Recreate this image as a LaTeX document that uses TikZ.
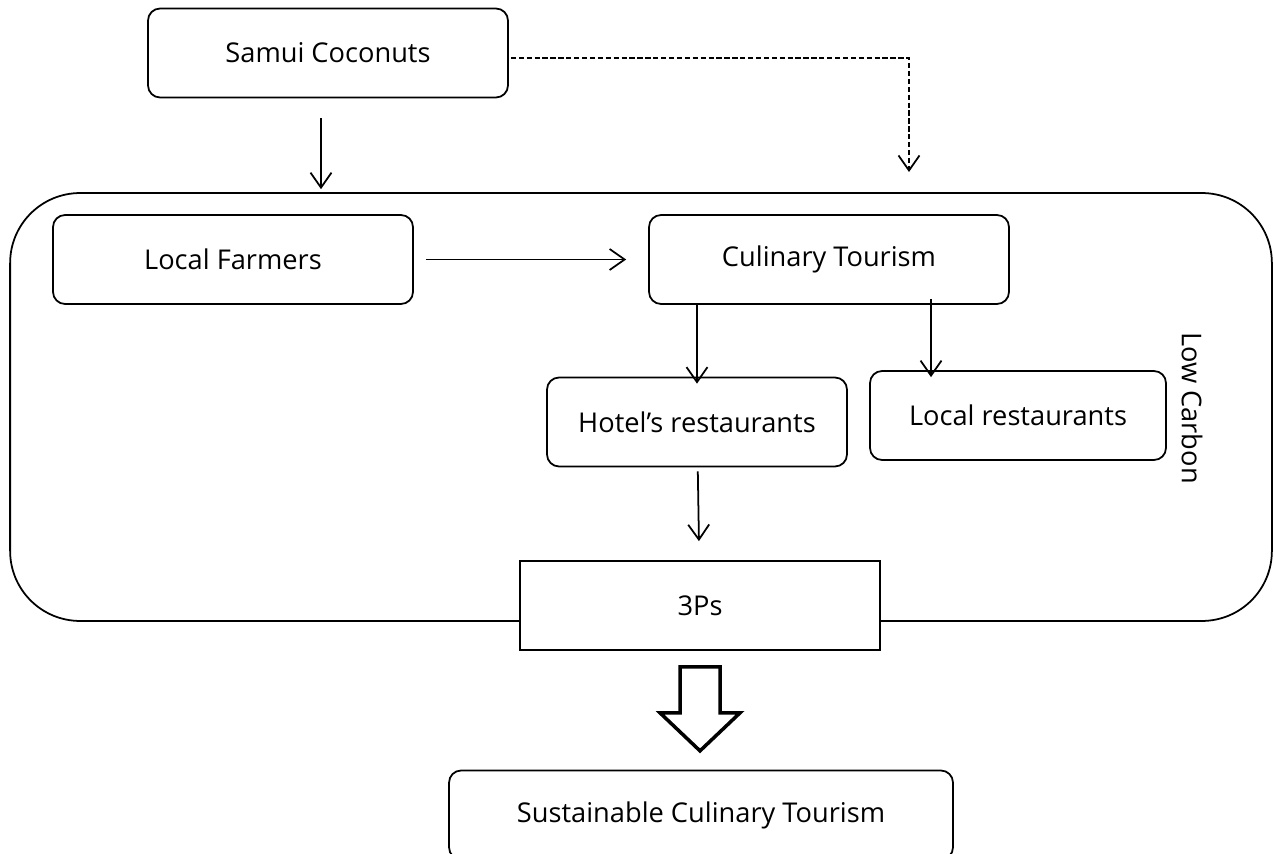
\documentclass[tikz,border=0pt]{standalone}
\usepackage{fontspec}
\setmainfont{Open Sans}
\usetikzlibrary{arrows.meta}
\begin{document}
\begin{tikzpicture}[x=0.02cm,y=-0.02cm,line width=1pt,
    txt/.style={font=\fontsize{15.5}{18}\selectfont},
    box/.style={draw,txt,rounded corners=0.24cm,minimum height=1.78cm},
    arr/.style={-{Straight Barb[length=0.3cm,width=0.42cm]}}]
  \useasboundingbox (0,0) rectangle (1274,854);
  \node[draw,rounded corners=1.4cm,minimum width=25.24cm,minimum height=8.56cm] (lowc) at (641,407) {};
  \node[txt,rotate=-90] (lowctxt) at (1192,408) {Low Carbon};
  \def\boxes{coco/{(328,53)}/7.2/Samui Coconuts,farm/{(233,259.5)}/7.2/Local Farmers,cul/{(829,259.5)}/7.2/Culinary Tourism,hotel/{(697,422)}/6/Hotel’s restaurants,localr/{(1018,415.5)}/5.92/Local restaurants,sct/{(701,815)}/10.08/Sustainable Culinary Tourism}
  \foreach \n/\p/\w/\t in \boxes {\node[box,minimum width=\w cm] (\n) at \p {\t};}
  \node[draw,txt,fill=white,minimum width=7.2cm,minimum height=1.78cm] (ps) at (700,605.5) {3Ps};
  \coordinate (dend) at (909,172);
  \draw[arr,shorten <=0.4cm,shorten >=0.06cm] ([xshift=-0.14cm]coco.south) -- ([xshift=-0.14cm]coco.south |- lowc.north);
  \draw[arr,dash pattern=on 3pt off 1.5pt] ([shift={(2,5)}]coco.east) -| (dend);
  \draw[arr,shorten <=0.24cm,shorten >=0.44cm] (farm) -- (cul);
  \draw[arr,shorten >=-0.14cm] (hotel.north |- cul.south) -- (hotel.north);
  \draw[arr,shorten <=-0.12cm,shorten >=-0.14cm] ([xshift=-1.74cm]localr.north |- cul.south) -- ([xshift=-1.74cm]localr.north);
  \draw[arr,shorten <=0.08cm,shorten >=0.38cm] (hotel) -- (ps);
  \draw[line width=2pt] ([xshift=-0.4cm,yshift=-0.32cm]ps.south) -- ++(0,46) -- ++(-20,0) -- ++(40,38) -- ++(40,-38) -- ++(-20,0) -- ++(0,-46) -- cycle;
\end{tikzpicture}
\end{document}
